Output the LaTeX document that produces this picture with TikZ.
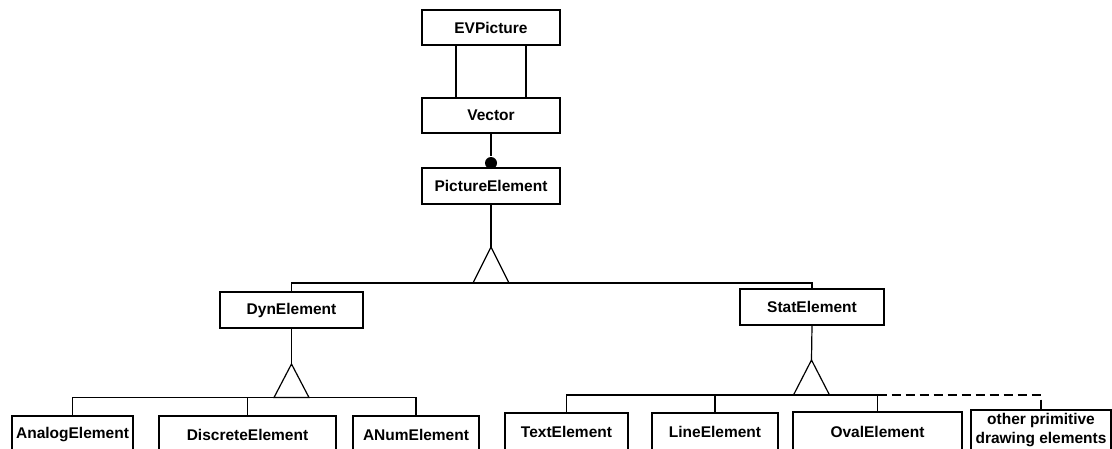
\documentclass[tikz,border=0pt]{standalone}
\usepackage{fontspec}
\setmainfont{Liberation Sans}
\begin{document}
\begin{tikzpicture}[x=1pt,y=-1pt,
  every path/.style={line width=1.2pt},
  cls/.style={draw, line width=1.2pt, inner sep=0pt, anchor=center,
    font=\fontsize{15.5}{19}\selectfont\bfseries},
  tri/.style={draw, line width=1.2pt},
  agg/.style={circle, fill=black, inner sep=0pt, minimum size=12pt},
  ext/.style={dash pattern=on 9pt off 5pt}]
\useasboundingbox (0,0) rectangle (1112,448);

% top chain
\node[cls, minimum width=138pt, minimum height=35pt] (ev)  at (491,27.5)  {EVPicture};
\node[cls, minimum width=138pt, minimum height=35pt] (vec) at (491,115.5) {Vector};
\node[cls, minimum width=138pt, minimum height=36pt] (pe)  at (491,186)   {PictureElement};

% middle level
\node[cls, minimum width=143pt, minimum height=36pt] (dyn)  at (291.5,310) {DynElement};
\node[cls, minimum width=144pt, minimum height=36pt] (stat) at (812,307)   {StatElement};

% bottom level, dynamic elements
\node[cls, minimum width=121pt, minimum height=38pt] (analog)   at (72.5,435)  {AnalogElement};
\node[cls, minimum width=177pt, minimum height=38pt] (discrete) at (247.5,435) {DiscreteElement};
\node[cls, minimum width=126pt, minimum height=38pt] (anum)     at (416,435)   {ANumElement};

% bottom level, static elements
\node[cls, minimum width=123pt, minimum height=38pt] (text)  at (566.5,432) {TextElement};
\node[cls, minimum width=126pt, minimum height=38pt] (line)  at (715,432)   {LineElement};
\node[cls, minimum width=169pt, minimum height=40pt] (oval)  at (877.5,432) {OvalElement};
\node[cls, minimum width=140pt, minimum height=40pt, align=center] (other) at (1041,430)
  {other primitive\\drawing elements};

% EVPicture -- Vector (double link)
\draw ([xshift=-35pt]ev.south) -- ([xshift=-35pt]vec.north);
\draw ([xshift=35pt]ev.south) -- ([xshift=35pt]vec.north);

% Vector aggregates PictureElement
\node[agg] (dot) at (491,163) {};
\draw (vec.south) -- (dot);

% inheritance: PictureElement
\coordinate (t1) at (491,247);
\coordinate (b1) at (491,283);
\draw (pe.south) -- (t1);
\draw[tri] (t1) -- ++(-18,36) -- ++(36,0) -- cycle;
\draw (dyn.north) |- (b1) -| (stat.north);

% inheritance: DynElement
\coordinate (t2) at (291.5,364);
\coordinate (b2) at (291.5,397.5);
\draw (dyn.south) -- (t2);
\draw[tri] (t2) -- ++(-17.5,33.5) -- ++(35,0) -- cycle;
\draw (analog.north) |- (b2) -| (anum.north);
\draw (discrete.north) -- (discrete.north |- b2);

% inheritance: StatElement
\coordinate (t3) at (811.5,360);
\coordinate (b3) at (811.5,395);
\draw (stat.south) -- (t3);
\draw[tri] (t3) -- ++(-18,35) -- ++(36,0) -- cycle;
\draw (text.north) |- (b3) -| (oval.north);
\draw (line.north) -- (line.north |- b3);
\draw[ext] (oval.north |- b3) -| (other.north);
\end{tikzpicture}
\end{document}
